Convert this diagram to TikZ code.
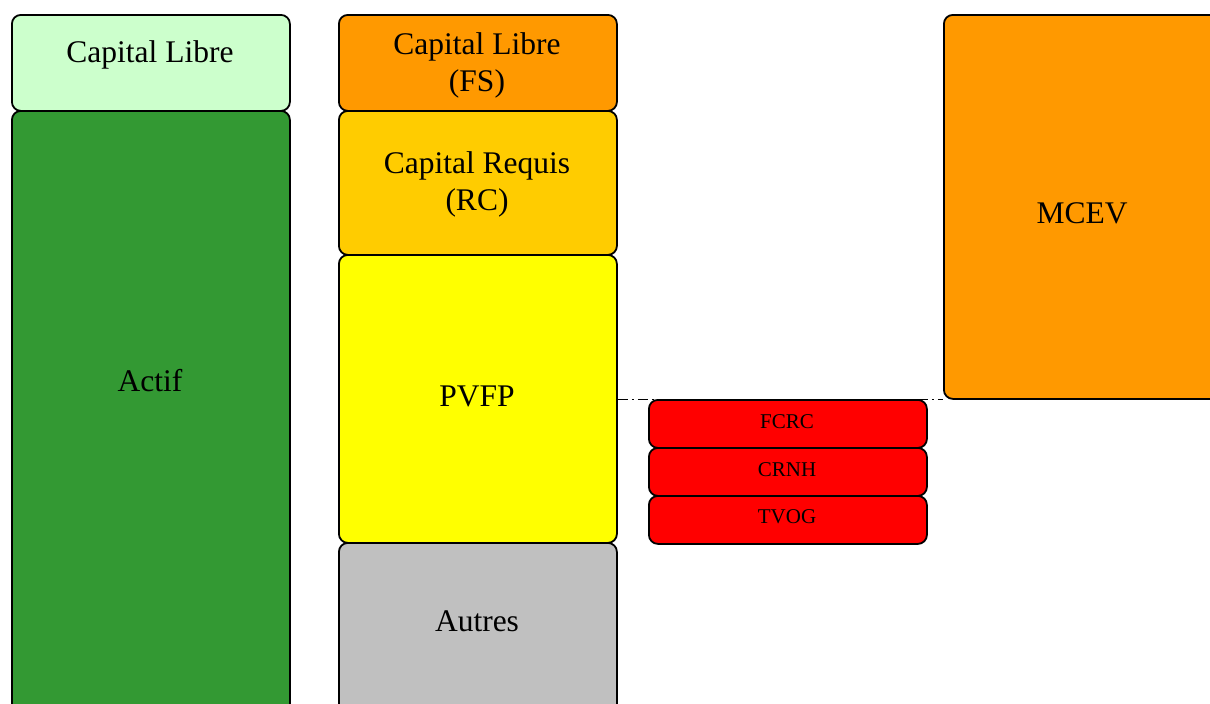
\documentclass[tikz,border=0pt]{standalone}
\usepackage{fontspec}
\setmainfont{Liberation Serif}
\definecolor{libre}{HTML}{CCFFCC}
\definecolor{actif}{HTML}{339933}
\definecolor{orangefs}{HTML}{FF9900}
\definecolor{requis}{HTML}{FFCC00}
\definecolor{pvfp}{HTML}{FFFF00}
\definecolor{autres}{HTML}{C0C0C0}
\definecolor{rouge}{HTML}{FF0000}
\begin{document}
\begin{tikzpicture}[x=1pt,y=-1pt,
  blk/.style={draw=black, line width=1.8pt, rounded corners=9pt,
    minimum width=278pt, inner sep=0pt, anchor=north west},
  big/.style={font=\fontsize{31.5}{37}\selectfont, align=center, inner sep=0pt},
  sml/.style={font=\fontsize{21}{25}\selectfont, inner sep=0pt},
  small/.style={blk, minimum height=48pt, fill=rouge},
  link/.style={draw=black, line width=1.3pt, dash pattern=on 10pt off 4pt on 2pt off 4pt}
]
\useasboundingbox (0,0) rectangle (1210,704);
\clip (0,0) rectangle (1210,704);

% assets column
\node[blk, fill=libre, minimum height=96pt] (cl) at (11,14) {};
\node[big] (cltxt) at (150,55) {Capital Libre};
\node[blk, fill=actif, minimum height=620pt] (actif) at (11,110) {};
\node[big] (actiftxt) at (150,381) {Actif};

% capital breakdown column
\node[blk, fill=orangefs, minimum height=96pt] (fs) at (338,14) {};
\node[big] (fstxt) at (477,65) {Capital Libre\\(FS)};
\node[blk, fill=requis, minimum height=144pt] (rc) at (338,110) {};
\node[big] (rctxt) at (477,184) {Capital Requis\\(RC)};
\node[blk, fill=pvfp, minimum height=288pt] (pvfp) at (338,254) {};
\node[big] (pvfptxt) at (477,396) {PVFP};
\node[blk, fill=autres, minimum height=200pt] (autres) at (338,542) {};
\node[big] (autrestxt) at (477,621) {Autres};

% MCEV
\node[blk, fill=orangefs, minimum height=384pt] (mcev) at (943,14) {};
\node[big] (mcevtxt) at (1082,213) {MCEV};

% deductions
\node[small] (fcrc) at (648,399) {};
\node[sml] (fcrctxt) at (787,422) {FCRC};
\node[small] (crnh) at (648,447) {};
\node[sml] (crnhtxt) at (787,470) {CRNH};
\node[small] (tvog) at (648,495) {};
\node[sml] (tvogtxt) at (787,517) {TVOG};

% link between PVFP and MCEV
\draw[link] (pvfp.east |- mcev.south west) -- (mcev.south west);
\end{tikzpicture}
\end{document}
